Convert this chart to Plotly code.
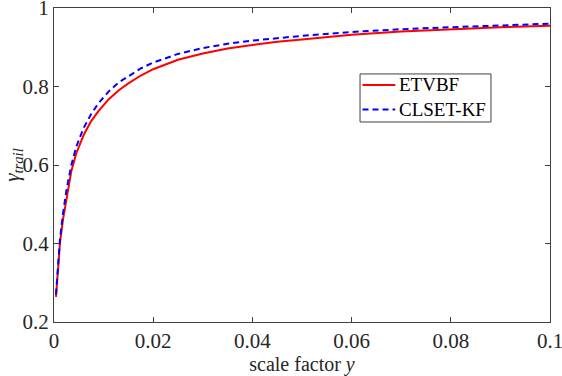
import plotly.graph_objects as go

# scale factor values
scale_y = [0.0004, 0.0008, 0.0012, 0.0018, 0.0025, 0.0035, 0.0045, 0.006, 0.0075, 0.009,
           0.011, 0.013, 0.015, 0.0175, 0.02, 0.0225, 0.025, 0.03, 0.035, 0.04,
           0.045, 0.05, 0.06, 0.07, 0.08, 0.09, 0.1]

etvbf = [0.264, 0.345, 0.401, 0.46, 0.515, 0.585, 0.63, 0.677, 0.712, 0.738,
         0.767, 0.79, 0.808, 0.828, 0.844, 0.857, 0.868, 0.884, 0.897, 0.906,
         0.914, 0.92, 0.932, 0.94, 0.946, 0.951, 0.955]

clset_kf = [0.27, 0.355, 0.41, 0.475, 0.535, 0.6, 0.647, 0.695, 0.73, 0.758,
            0.787, 0.81, 0.827, 0.846, 0.861, 0.873, 0.883, 0.898, 0.909, 0.917,
            0.923, 0.929, 0.939, 0.946, 0.951, 0.956, 0.96]

x_ticks = [0, 0.02, 0.04, 0.06, 0.08, 0.1]
x_labels = ['0', '0.02', '0.04', '0.06', '0.08', '0.1']
y_ticks = [0.2, 0.4, 0.6, 0.8, 1]
y_labels = ['0.2', '0.4', '0.6', '0.8', '1']

FONT = 'Liberation Serif, Times New Roman, serif'
AXCOL = '#404040'

series = [
    ('ETVBF', etvbf, dict(color='red', width=2)),
    ('CLSET-KF', clset_kf, dict(color='blue', width=2, dash='6px,4px')),
]

fig = go.Figure()
for name, vals, line in series:
    fig.add_trace(go.Scatter(name=name, x=scale_y, y=vals, mode='lines', line=line))

axis_common = dict(
    showgrid=False, zeroline=False, showline=True, mirror='ticks',
    linecolor=AXCOL, linewidth=1, ticks='inside', ticklen=5,
    tickcolor=AXCOL, tickfont=dict(family=FONT, size=21, color='#262626'),
    automargin=False, ticklabeloverflow='allow',
)

fig.update_xaxes(range=[-1e-7, 0.1 + 1e-7], tickvals=x_ticks, ticktext=x_labels,
                 title=dict(text='scale factor <i>y</i>', standoff=2,
                            font=dict(family=FONT, size=20, color='#262626')),
                 **axis_common)
fig.update_yaxes(range=[0.2 - 1e-6, 1 + 1e-6], tickvals=y_ticks, ticktext=y_labels,
                 title=dict(text='<i>γ</i><sub><i>trail</i></sub>', standoff=6,
                            font=dict(family=FONT, size=21, color='#262626')),
                 **axis_common)

# legend box drawn by hand (plotly's rows are too tall)
fig.add_shape(type='rect', xref='paper', yref='paper', x0=0.617, x1=0.881, y0=0.637, y1=0.790,
              line=dict(color=AXCOL, width=1), fillcolor='white', layer='above')
row_y = [0.755, 0.677]
for (name, vals, line), ry in zip(series, row_y):
    fig.add_shape(type='line', xref='paper', yref='paper', x0=0.622, x1=0.688, y0=ry, y1=ry,
                  line=line, layer='above')
    fig.add_annotation(text=name, xref='paper', yref='paper', x=0.691, y=ry,
                       xanchor='left', yanchor='middle', showarrow=False,
                       font=dict(family=FONT, size=19, color='black'))

fig.update_layout(
    width=562, height=376,
    margin=dict(l=54, r=12, t=8, b=54),
    plot_bgcolor='white', paper_bgcolor='white',
    showlegend=False,
)

fig.write_html("out.html", config={'displayModeBar': False},
               post_script="document.body.style.margin='0';")
